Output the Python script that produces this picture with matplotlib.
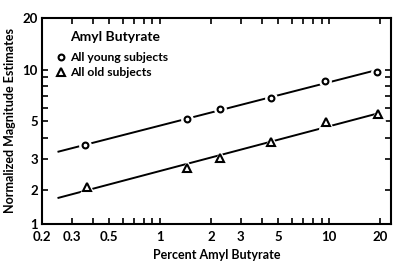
import numpy as np
import matplotlib.pyplot as plt
from matplotlib.lines import Line2D

# 読み取った値
young_x = [0.36, 1.44, 2.26, 4.5, 9.5, 19.2]
young_y = [3.62, 5.15, 5.9, 6.84, 8.6, 9.7]
old_x = [0.37, 1.44, 2.26, 4.5, 9.6, 19.5]
old_y = [2.08, 2.69, 3.04, 3.77, 4.94, 5.5]

xticks = [0.2, 0.3, 0.5, 1, 2, 3, 5, 10, 20]
xtick_labels = ['0.2', '0.3', '0.5', '1', '2', '3', '5', '10', '20']
xminor = [0.4, 0.6, 0.7, 0.8, 0.9, 4, 6, 7, 8, 9]
yticks = [1.26, 2, 3, 5, 10, 20]
ytick_labels = ['1', '2', '3', '5', '10', '20']
yminor = [4, 6, 7, 8, 9]

fit_x = [0.25, 20]

plt.rcParams['font.family'] = ['Lato', 'DejaVu Sans']
plt.rcParams['font.weight'] = 'bold'

fig = plt.figure(figsize=(3.97, 2.63), dpi=100)
ax = fig.add_axes([0.106, 0.148, 0.879, 0.784])
ax.set_xscale('log')
ax.set_yscale('log')

def fitted(xs, ys):
    p = np.polyfit(np.log10(xs), np.log10(ys), 1)
    fx = np.array(fit_x)
    return fx, 10 ** np.polyval(p, np.log10(fx))

for xs, ys, mk, ms in [(young_x, young_y, 'o', 4.2), (old_x, old_y, '^', 6.2)]:
    fx, fy = fitted(xs, ys)
    ax.plot(fx, fy, color='black', lw=1.4, zorder=1)
    ax.plot(xs, ys, ls='none', marker=mk, ms=ms + 4, mfc='white', mec='white', zorder=2)
    ax.plot(xs, ys, ls='none', marker=mk, ms=ms, mfc='white', mec='black', mew=1.5, zorder=3)

ax.set_xlim(0.2, 23.2)
ax.set_ylim(1.26, 20)
ax.set_xticks(xticks)
ax.set_xticklabels(xtick_labels)
ax.set_xticks(xminor, minor=True)
ax.set_xticklabels([], minor=True)
ax.set_yticks(yticks)
ax.set_yticklabels(ytick_labels)
ax.set_yticks(yminor, minor=True)
ax.set_yticklabels([], minor=True)
ax.tick_params(which='both', direction='in', top=True, right=True,
               length=4.5, width=1.2, labelsize=9.5, pad=3)
ax.tick_params(axis='x', pad=5)

for s in ax.spines.values():
    s.set_linewidth(1.5)

ax.set_xlabel('Percent Amyl Butyrate', fontsize=9, fontweight='bold', labelpad=4)
ax.set_ylabel('Normalized Magnitude Estimates', fontsize=9, fontweight='bold', labelpad=5)

ax.text(0.08, 0.905, 'Amyl Butyrate', transform=ax.transAxes, fontsize=10,
        fontweight='bold', va='center', ha='left')
handles = [Line2D([], [], ls='none', marker='o', ms=4.2, mfc='white', mec='black', mew=1.5),
           Line2D([], [], ls='none', marker='^', ms=6.2, mfc='white', mec='black', mew=1.5)]
ax.legend(handles, ['All young subjects', 'All old subjects'], loc='upper left',
          bbox_to_anchor=(0.04, 0.835), frameon=False, handlelength=0.8,
          handletextpad=0.35, labelspacing=0.35, borderpad=0,
          borderaxespad=0, prop={'weight': 'bold', 'size': 8.7})

fig.savefig('out.png', dpi=100)
